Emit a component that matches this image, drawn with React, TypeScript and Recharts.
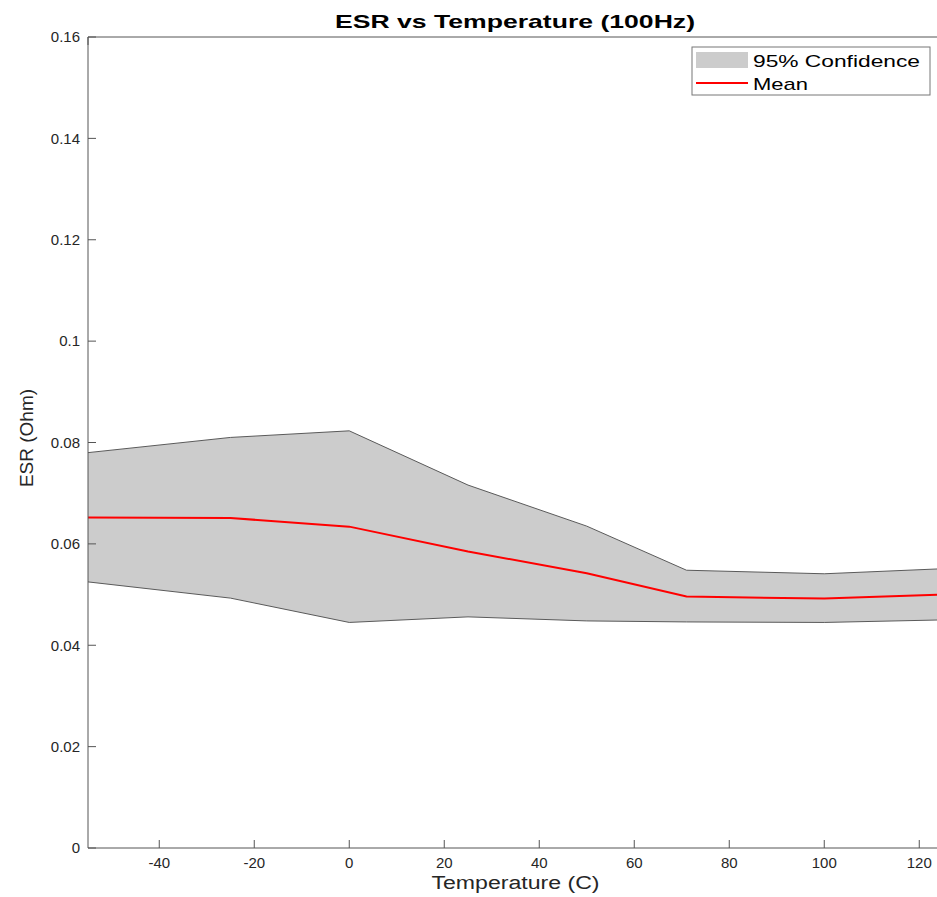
import { Area, ComposedChart, Label, Line, XAxis, YAxis } from "recharts";

const TEMPS = [-55, -25, 0, 25, 50, 71, 100, 125];
const UPPER = [0.078, 0.081, 0.0823, 0.0716, 0.0635, 0.0548, 0.0541, 0.0551];
const LOWER = [0.0525, 0.0493, 0.0445, 0.0456, 0.0448, 0.0446, 0.0445, 0.045];
const MEAN = [0.0652, 0.0651, 0.0634, 0.0585, 0.0542, 0.0496, 0.0492, 0.05];
const X_TICKS = [-40, -20, 0, 20, 40, 60, 80, 100, 120];
const Y_TICKS = [0, 0.02, 0.04, 0.06, 0.08, 0.1, 0.12, 0.14, 0.16];

const FONT = '"Liberation Sans", Arial, Helvetica, sans-serif';
const AXIS = "#555";
const INK = "#262626";

const data = TEMPS.map((t, i) => ({ t, band: [LOWER[i], UPPER[i]], mean: MEAN[i] }));

function XTitle(props: any) {
  const vb = props.viewBox || {};
  const cx = vb.width ? vb.x + vb.width / 2 : 515;
  return (
    <text x={cx} y={889} textAnchor="middle" fontSize={18} fill={INK} fontFamily={FONT}
      textLength={168} lengthAdjust="spacingAndGlyphs">
      Temperature (C)
    </text>
  );
}

function YTitle() {
  return (
    <text x={33} y={438} transform="rotate(-90, 33, 438)" textAnchor="middle" fontSize={19}
      fill={INK} fontFamily={FONT}>
      ESR (Ohm)
    </text>
  );
}

export default function App() {
  return (
    <div style={{ position: "absolute", left: 0, top: 0, width: 937, height: 897, overflow: "hidden", background: "#fff" }}>
      <ComposedChart width={951} height={897} data={data} margin={{ top: 36, right: 8, left: 0, bottom: 0 }}
        style={{ fontFamily: FONT }}>
        <XAxis xAxisId="top" orientation="top" type="number" domain={[-55, 125]} ticks={X_TICKS}
          height={1} tickSize={-8} stroke={AXIS} tickFormatter={() => ""} allowDataOverflow />
        <XAxis xAxisId="bottom" dataKey="t" type="number" domain={[-55, 125]} ticks={X_TICKS}
          height={49} tickSize={-8} tickMargin={17} stroke={AXIS}
          tick={{ fill: INK, fontSize: 15, fontFamily: FONT }} allowDataOverflow>
          <Label content={XTitle} />
        </XAxis>
        <YAxis domain={[0, 0.16]} ticks={Y_TICKS} width={88} tickSize={-8} tickMargin={16}
          stroke={AXIS} tick={{ fill: INK, fontSize: 15, fontFamily: FONT }}
          tickFormatter={(v) => String(v)} allowDataOverflow>
          <Label content={YTitle} />
        </YAxis>
        <Area xAxisId="bottom" type="linear" dataKey="band" name="95% Confidence" fill="#cccccc"
          fillOpacity={1} stroke="#5a5a5a" strokeWidth={1} dot={false} activeDot={false}
          isAnimationActive={false} />
        <Line xAxisId="bottom" type="linear" dataKey="mean" name="Mean" stroke="#ff0000"
          strokeWidth={2} dot={false} activeDot={false} isAnimationActive={false} />
      </ComposedChart>
      <svg width={937} height={897} style={{ position: "absolute", left: 0, top: 0, pointerEvents: "none" }}>
        <text x={515} y={28} textAnchor="middle" fontSize={19} fontWeight="bold" fill="#000"
          fontFamily={FONT} textLength={360} lengthAdjust="spacingAndGlyphs">
          ESR vs Temperature (100Hz)
        </text>
        <rect x={692} y={47} width={238} height={48} fill="#fff" stroke="#777" strokeWidth={1} />
        <rect x={696} y={52} width={52} height={16} fill="#cccccc" />
        <text x={753} y={67} fontSize={17} fill="#000" fontFamily={FONT} textLength={167}
          lengthAdjust="spacingAndGlyphs">
          95% Confidence
        </text>
        <line x1={696} x2={748} y1={83} y2={83} stroke="#ff0000" strokeWidth={2} />
        <text x={753} y={90} fontSize={17} fill="#000" fontFamily={FONT} textLength={55}
          lengthAdjust="spacingAndGlyphs">
          Mean
        </text>
      </svg>
    </div>
  );
}
